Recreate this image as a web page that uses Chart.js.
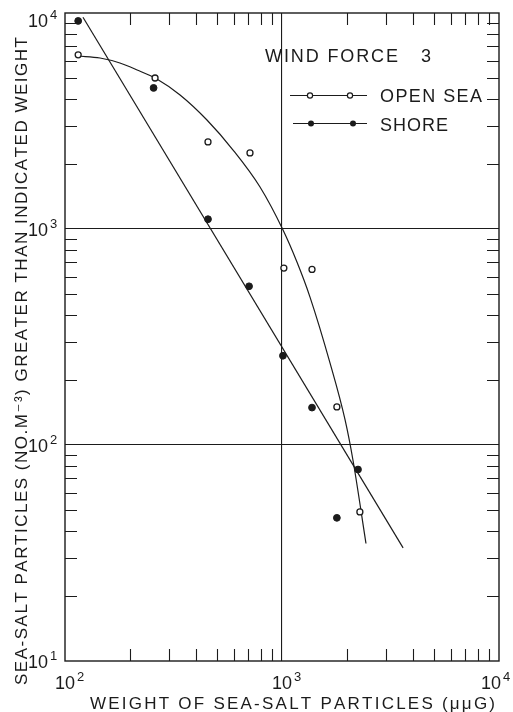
<!DOCTYPE html>
<html>
<head>
<meta charset="utf-8">
<script src="https://cdn.jsdelivr.net/npm/chart.js@4.4.1/dist/chart.umd.min.js"></script>
<style>
  html, body { margin: 0; padding: 0; background: #fff; }
  #wrap { width: 513px; height: 712px; }
</style>
</head>
<body>
<div id="wrap"><canvas id="grafico" width="513" height="712"></canvas></div>
<script>
// valores (peso em μμg, partículas por m³)
const openSeaX = [115, 260, 456, 712, 1020, 1375, 1790, 2285];
const openSeaY = [6400, 5000, 2530, 2250, 659, 650, 150, 49];
const shoreX = [115, 256, 456, 705, 1010, 1375, 2240, 1790];
const shoreY = [9190, 4500, 1110, 543, 259, 149, 77, 46];

// curvas traçadas à mão no original
const openSeaCurveX = [115, 145, 179, 215, 265, 339, 451, 595, 792, 1011, 1172, 1346, 1664, 1952, 2124, 2438];
const openSeaCurveY = [6322, 6189, 5868, 5447, 4949, 4173, 3196, 2321, 1564, 989, 703, 484, 240, 131, 85, 35];
const shoreLineX = [121, 3615];
const shoreLineY = [9560, 33.4];

// eixos
const xTicks = [100, 200, 300, 400, 500, 600, 700, 800, 900,
                1000, 2000, 3000, 4000, 5000, 6000, 7000, 8000, 9000, 10000];
const yTicks = [10, 20, 30, 40, 50, 60, 70, 80, 90,
                100, 200, 300, 400, 500, 600, 700, 800, 900,
                1000, 2000, 3000, 4000, 5000, 6000, 7000, 8000, 9000, 10000];
const xLabels = [100, 1000, 10000];
const yLabels = [10, 100, 1000, 10000];
const gridX = [1000];
const gridY = [100, 1000];

const INK = '#1b1b1b';
const FONT = '"Liberation Sans", "DejaVu Sans", sans-serif';

function pares(xs, ys) {
    return xs.map((x, i) => ({ x: x, y: ys[i] }));
}

// texto com espaçamento distribuído até ocupar a largura pedida
function drawSpread(ctx, text, x, y, width) {
    const chars = Array.from(text);
    const natural = chars.reduce((s, c) => s + ctx.measureText(c).width, 0);
    const gap = chars.length > 1 ? (width - natural) / (chars.length - 1) : 0;
    let cx = x;
    chars.forEach(c => {
        ctx.fillText(c, cx, y);
        cx += ctx.measureText(c).width + gap;
    });
}

function drawPower(ctx, exp, x, baseline, align) {
    ctx.font = '18px ' + FONT;
    const w = ctx.measureText('10').width;
    const left = align === 'center' ? x - w / 2 : x - w;
    ctx.textAlign = 'left';
    ctx.fillText('10', left, baseline);
    ctx.font = '13px ' + FONT;
    ctx.fillText(String(exp), left + w + 2, baseline - 8);
}

const molduraPlugin = {
    id: 'moldura',
    afterDraw(chart) {
        const ctx = chart.ctx;
        const a = chart.chartArea;
        const sx = chart.scales.x, sy = chart.scales.y;
        ctx.save();
        ctx.strokeStyle = INK;
        ctx.fillStyle = INK;

        // caixa
        ctx.lineWidth = 1.4;
        ctx.strokeRect(a.left, a.top, a.right - a.left, a.bottom - a.top);

        // marcas internas
        ctx.lineWidth = 1.1;
        ctx.beginPath();
        xTicks.forEach(v => {
            if (xLabels.includes(v)) return;
            const px = Math.round(sx.getPixelForValue(v)) + 0.5;
            ctx.moveTo(px, a.bottom); ctx.lineTo(px, a.bottom - 12);
            ctx.moveTo(px, a.top); ctx.lineTo(px, a.top + 12);
        });
        yTicks.forEach(v => {
            if (yLabels.includes(v)) return;
            const py = Math.round(sy.getPixelForValue(v)) + 0.5;
            ctx.moveTo(a.left, py); ctx.lineTo(a.left + 12, py);
            ctx.moveTo(a.right, py); ctx.lineTo(a.right - 12, py);
        });
        ctx.stroke();

        // rótulos dos eixos
        ctx.textBaseline = 'alphabetic';
        xLabels.forEach(v => {
            let cx = sx.getPixelForValue(v);
            if (cx > a.right - 8) cx = a.right - 8;
            drawPower(ctx, Math.round(Math.log10(v)), cx, 689, 'center');
        });
        yLabels.forEach(v => {
            let cy = sy.getPixelForValue(v);
            if (cy < a.top + 7) cy = a.top + 7;
            drawPower(ctx, Math.round(Math.log10(v)), 48, cy + 6.5, 'right');
        });

        // títulos
        ctx.font = '17px ' + FONT;
        ctx.textAlign = 'left';
        drawSpread(ctx, 'WEIGHT OF SEA-SALT PARTICLES (\u03BC\u03BCG)', 90, 709, 405);

        ctx.save();
        ctx.translate(27, 685);
        ctx.rotate(-Math.PI / 2);
        drawSpread(ctx, 'SEA-SALT PARTICLES (NO.M\u207B\u00B3) GREATER THAN INDICATED WEIGHT', 0, 0, 648);
        ctx.restore();

        // legenda
        ctx.font = '18px ' + FONT;
        drawSpread(ctx, 'WIND FORCE', 265, 62, 133);
        ctx.fillText('3', 421, 62);
        drawSpread(ctx, 'OPEN SEA', 380, 102, 102);
        drawSpread(ctx, 'SHORE', 380, 131, 68);

        ctx.lineWidth = 1.2;
        ctx.beginPath();
        ctx.moveTo(290, 95.5); ctx.lineTo(367, 95.5);
        ctx.moveTo(293, 123.5); ctx.lineTo(367, 123.5);
        ctx.stroke();
        [310, 350].forEach(cx => {
            ctx.beginPath();
            ctx.arc(cx, 95.5, 2.6, 0, Math.PI * 2);
            ctx.fillStyle = '#fff'; ctx.fill();
            ctx.lineWidth = 1.2; ctx.stroke();
        });
        ctx.fillStyle = INK;
        [311, 353].forEach(cx => {
            ctx.beginPath();
            ctx.arc(cx, 123.5, 3, 0, Math.PI * 2);
            ctx.fill();
        });
        ctx.restore();
    }
};

const corGrade = lista => c => (c.tick && lista.includes(c.tick.value)) ? INK : 'rgba(0,0,0,0)';

new Chart(document.getElementById('grafico'), {
    type: 'scatter',
    data: {
        datasets: [
            {
                label: 'OPEN SEA',
                data: pares(openSeaX, openSeaY),
                showLine: false,
                pointRadius: 3,
                pointBackgroundColor: '#fff',
                pointBorderColor: INK,
                pointBorderWidth: 1.3
            },
            {
                label: 'SHORE',
                data: pares(shoreX, shoreY),
                showLine: false,
                pointRadius: 3.4,
                pointBackgroundColor: INK,
                pointBorderColor: INK,
                pointBorderWidth: 1
            },
            {
                label: 'open sea curve',
                data: pares(openSeaCurveX, openSeaCurveY),
                showLine: true,
                cubicInterpolationMode: 'monotone',
                pointRadius: 0,
                borderColor: INK,
                borderWidth: 1.2
            },
            {
                label: 'shore line',
                data: pares(shoreLineX, shoreLineY),
                showLine: true,
                pointRadius: 0,
                borderColor: INK,
                borderWidth: 1.2
            }
        ]
    },
    options: {
        responsive: false,
        animation: false,
        devicePixelRatio: 1,
        layout: { padding: { left: 65, right: 14, top: 13, bottom: 51 } },
        plugins: { legend: { display: false }, tooltip: { enabled: false } },
        scales: {
            x: {
                type: 'logarithmic',
                min: 100, max: 10000,
                afterBuildTicks: s => { s.ticks = xTicks.map(v => ({ value: v })); },
                ticks: { display: false },
                border: { display: false },
                grid: { drawTicks: false, color: corGrade(gridX), lineWidth: 1.1 }
            },
            y: {
                type: 'logarithmic',
                min: 10, max: 10000,
                afterBuildTicks: s => { s.ticks = yTicks.map(v => ({ value: v })); },
                ticks: { display: false },
                border: { display: false },
                grid: { drawTicks: false, color: corGrade(gridY), lineWidth: 1.1 }
            }
        }
    },
    plugins: [molduraPlugin]
});
</script>
</body>
</html>
